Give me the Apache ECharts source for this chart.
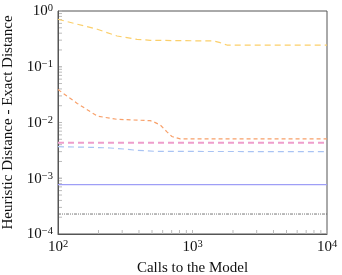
<!DOCTYPE html>
<html><head><meta charset="utf-8">
<script src="https://cdn.jsdelivr.net/npm/echarts@6/dist/echarts.min.js"></script>
<style>html,body{margin:0;padding:0;background:#fff}#c{width:342px;height:275px}</style>
</head><body><div id="c"></div>
<script>
var xTitle = 'Calls to the Model';
var yTitle = 'Heuristic Distance - Exact Distance';

var yellowX = [100, 196, 275, 387, 485, 1432, 1607, 1803, 10000];
var yellowY = [0.71, 0.47, 0.356, 0.31, 0.298, 0.29, 0.27, 0.245, 0.245];

var orangeX = [100, 139, 196, 275, 485, 514, 577, 646, 703, 811, 10000];
var orangeY = [0.039, 0.022, 0.013, 0.0114, 0.0108, 0.0103, 0.009, 0.0068, 0.0056, 0.0051, 0.0051];

var pinkX = [100, 10000];
var pinkY = [0.00434, 0.00434];

var blueX = [100, 174, 245, 308, 365, 434, 545, 10000];
var blueY = [0.00368, 0.00359, 0.00349, 0.00335, 0.00321, 0.00312, 0.00303, 0.0030];

var purpleX = [100, 10000];
var purpleY = [0.000767, 0.000767];

var blackX = [100, 10000];
var blackY = [0.000228, 0.000228];

function pairs(xs, ys){ return xs.map(function(x,i){ return [x, ys[i]]; }); }
function fmt(v){
  var e = Math.round(Math.log10(v));
  var s = String(e).replace('-', '\u2212');
  return '{b|10}{s|' + s + '}';
}
var font = 'Liberation Serif';
var rich = {
  b: {fontFamily: font, fontSize: 15, color: '#111', lineHeight: 16, verticalAlign:'bottom'},
  s: {fontFamily: font, fontSize: 10.5, color: '#111', lineHeight: 16, verticalAlign:'top', padding:[0,0,6,0]}
};

var chart = echarts.init(document.getElementById('c'), null, {renderer: 'canvas'});
var grid = {left: 58, right: 15, top: 11, bottom: 41, show: true, borderColor: '#555', borderWidth: 1,
  backgroundColor: 'transparent', containLabel: false, outerBoundsMode: 'none'};
function line(name, xs, ys, color, width, type, z){
  return {name: name, type: 'line', data: pairs(xs, ys), showSymbol: false, symbol: 'none', smooth: false, z: z || 2,
    lineStyle: {color: color, width: width, type: type}, emphasis: {disabled: true}, silent: true, animation: false};
}
chart.setOption({
  animation: false,
  backgroundColor: '#fff',
  grid: grid,
  xAxis: {type: 'log', logBase: 10, min: 100, max: 10000,
    name: xTitle, nameLocation: 'middle', nameGap: 25,
    nameTextStyle: {fontFamily: font, fontSize: 15, color: '#111'},
    axisLine: {show: true, lineStyle: {color: '#555', width: 1}},
    axisTick: {show: false},
    splitLine: {show: false},
    axisLabel: {formatter: fmt, rich: rich, margin: 5}
  },
  yAxis: {type: 'log', logBase: 10, min: 0.0001, max: 1,
    name: yTitle, nameLocation: 'middle', nameGap: 41, nameRotate: 90,
    nameTextStyle: {fontFamily: font, fontSize: 15, color: '#111'},
    axisLine: {show: true, lineStyle: {color: '#555', width: 1}},
    axisTick: {show: false},
    splitLine: {show: false},
    axisLabel: {formatter: fmt, rich: rich, margin: 5}
  },
  series: [
    line('yellow', yellowX, yellowY, '#fbcf6a', 1.2, [6, 4]),
    line('orange', orangeX, orangeY, '#f8a06a', 1.2, [4, 3]),
    line('pink', pinkX, pinkY, '#ee9dcb', 2, [6, 4]),
    line('blue', blueX, blueY, '#a9c3f3', 1.2, [6, 4]),
    line('purple', purpleX, purpleY, '#9e9ef6', 1.2, 'solid'),
    line('black', blackX, blackY, '#555555', 0.8, [3, 1, 1, 1, 1, 1])
  ]
});

var g = [];
[100, 1000].forEach(function(d){
  for (var k = 1; k <= 10; k++) {
    var v = d * k; if (v > 10000 || (k===1 && d===100)) continue;
    var p = chart.convertToPixel({xAxisIndex: 0}, v);
    var y0 = chart.convertToPixel({yAxisIndex: 0}, 0.0001);
    g.push({type: 'line', shape: {x1: p, y1: y0, x2: p, y2: y0 - 4}, style: {stroke: '#bbb', lineWidth: 1}, silent: true});
  }
});
[0.0001, 0.001, 0.01, 0.1].forEach(function(d){
  for (var k = 1; k <= 10; k++) {
    var v = d * k; if (v > 1.0000001 || (k===1 && d===0.0001)) continue;
    var p = chart.convertToPixel({yAxisIndex: 0}, v);
    var x0 = chart.convertToPixel({xAxisIndex: 0}, 100);
    g.push({type: 'line', shape: {x1: x0, y1: p, x2: x0 + 4, y2: p}, style: {stroke: '#bbb', lineWidth: 1}, silent: true});
  }
});
chart.setOption({graphic: g});
</script></body></html>
